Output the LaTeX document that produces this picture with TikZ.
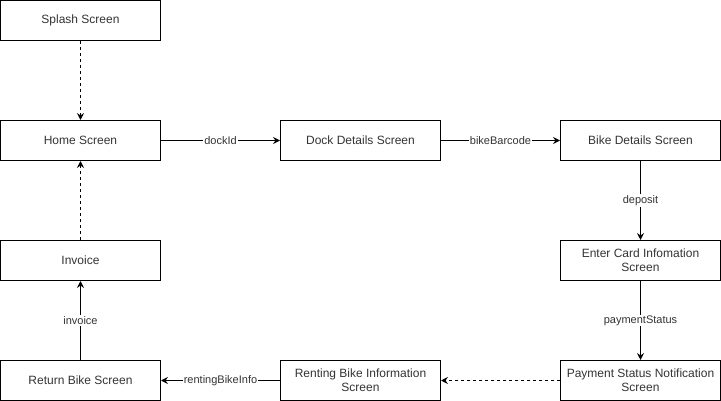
\documentclass[tikz,border=0pt]{standalone}
\usepackage{fontspec}
\setmainfont{Liberation Sans}
\usetikzlibrary{arrows.meta,positioning}

\begin{document}
\begin{tikzpicture}[x=1pt, y=-1pt,
    screen/.style={draw, line width=1pt, minimum width=160pt, minimum height=40pt, align=center, font=\fontsize{12}{14}\selectfont, text=black!80},
    flow/.style={line width=1pt, -{Stealth[length=7pt, width=7pt, inset=2.5pt]}},
    weak/.style={flow, dash pattern=on 3pt off 3pt},
    lbl/.style={fill=white, inner sep=1pt, font=\fontsize{11}{13}\selectfont, text=black!80}]
    \useasboundingbox (0,0) rectangle (721,401);

    % Screens
    \node[screen] (splash) at (80.5, 20.5) {Splash Screen};
    \node[screen] (home) at (80.5, 140.5) {Home Screen};
    \node[screen] (dock) at (360.5, 140.5) {Dock Details Screen};
    \node[screen] (bike) at (640.5, 140.5) {Bike Details Screen};
    \node[screen] (card) at (640.5, 260.5) {Enter Card Infomation\\Screen};
    \node[screen] (status) at (640.5, 380.5) {Payment Status Notification\\Screen};
    \node[screen] (renting) at (360.5, 380.5) {Renting Bike Information\\Screen};
    \node[screen] (return) at (80.5, 380.5) {Return Bike Screen};
    \node[screen] (invoice) at (80.5, 260.5) {Invoice};

    % Transitions
    \draw[weak] (splash) -- (home);
    \draw[flow] (home) -- node[lbl] {dockId} (dock);
    \draw[flow] (dock) -- node[lbl] {bikeBarcode} (bike);
    \draw[flow] (bike) -- node[lbl] {deposit} (card);
    \draw[flow] (card) -- node[lbl] {paymentStatus} (status);
    \draw[weak] (status) -- (renting);
    \draw[flow] (renting) -- node[lbl] {rentingBikeInfo} (return);
    \draw[flow] (return) -- node[lbl] {invoice} (invoice);
    \draw[weak] (invoice) -- (home);
\end{tikzpicture}
\end{document}
